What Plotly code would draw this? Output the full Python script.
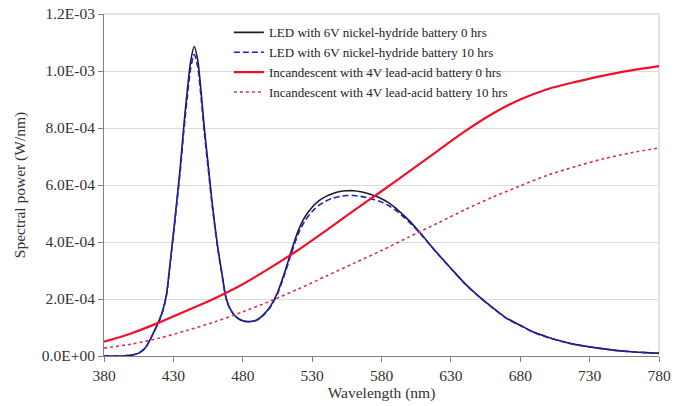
import numpy as np
import plotly.graph_objects as go

SCALE = 1e-3  # values below are in units of 1E-03 W/nm

# LED spectra (wavelength in nm)
wl_led = [380, 390, 395, 400, 405, 410, 415, 420, 422.5, 425, 427.5, 430, 432.5, 435, 437.5,
          440, 442.5, 445, 447.5, 450, 452.5, 455, 457.5, 460, 462.5, 465, 467.5, 470, 475,
          480, 485, 490, 495, 500, 505, 510, 515, 520, 525, 530, 535, 540, 545, 550, 555,
          560, 565, 570, 575, 580, 585, 590, 595, 600, 605, 610, 615, 620, 625, 630, 640,
          650, 660, 670, 680, 690, 700, 710, 720, 730, 740, 750, 760, 770, 780]
led_0h = [0.000, 0.000, 0.001, 0.003, 0.010, 0.030, 0.075, 0.128, 0.162, 0.215, 0.320, 0.430,
          0.545, 0.665, 0.805, 0.930, 1.035, 1.086, 1.040, 0.925, 0.790, 0.675, 0.558, 0.455,
          0.365, 0.290, 0.215, 0.175, 0.138, 0.124, 0.121, 0.126, 0.145, 0.175, 0.222, 0.290,
          0.368, 0.440, 0.490, 0.522, 0.545, 0.560, 0.570, 0.577, 0.580, 0.580, 0.576, 0.570,
          0.562, 0.552, 0.538, 0.520, 0.498, 0.475, 0.448, 0.420, 0.390, 0.362, 0.335, 0.308,
          0.255, 0.210, 0.170, 0.133, 0.108, 0.083, 0.066, 0.052, 0.040, 0.032, 0.025, 0.019,
          0.015, 0.012, 0.010]
led_10h = [0.000, 0.000, 0.001, 0.003, 0.010, 0.030, 0.074, 0.126, 0.160, 0.212, 0.315, 0.423,
           0.535, 0.652, 0.788, 0.908, 1.010, 1.058, 1.015, 0.905, 0.775, 0.662, 0.548, 0.448,
           0.360, 0.286, 0.212, 0.173, 0.137, 0.123, 0.120, 0.125, 0.143, 0.172, 0.218, 0.284,
           0.360, 0.428, 0.476, 0.507, 0.529, 0.544, 0.554, 0.560, 0.563, 0.563, 0.560, 0.555,
           0.548, 0.540, 0.528, 0.512, 0.492, 0.470, 0.445, 0.418, 0.389, 0.361, 0.334, 0.307,
           0.254, 0.209, 0.169, 0.132, 0.107, 0.082, 0.065, 0.051, 0.040, 0.032, 0.025, 0.019,
           0.015, 0.012, 0.010]

# Incandescent spectra
wl_inc = [380, 400, 420, 440, 460, 480, 500, 520, 540, 560, 580, 600, 620, 640, 660, 680,
          700, 720, 740, 760, 780]
inc_0h = [0.050, 0.080, 0.118, 0.160, 0.203, 0.252, 0.310, 0.372, 0.440, 0.510, 0.578,
          0.648, 0.718, 0.788, 0.850, 0.900, 0.937, 0.962, 0.984, 1.002, 1.017]
inc_10h = [0.028, 0.042, 0.063, 0.090, 0.120, 0.155, 0.193, 0.235, 0.280, 0.325, 0.370,
           0.418, 0.465, 0.513, 0.557, 0.597, 0.635, 0.665, 0.692, 0.713, 0.730]

names = ["LED with 6V nickel-hydride battery 0 hrs",
         "LED with 6V nickel-hydride battery 10 hrs",
         "Incandescent with 4V lead-acid battery 0 hrs",
         "Incandescent with 4V lead-acid battery 10 hrs"]

y_tickvals = [0, 2e-4, 4e-4, 6e-4, 8e-4, 1.0e-3, 1.2e-3]
y_ticktext = ["0.0E+00", "2.0E-04", "4.0E-04", "6.0E-04", "8.0E-04", "1.0E-03", "1.2E-03"]

FONT = "Liberation Serif"

fig = go.Figure()
series = [
    (wl_led, led_0h, dict(color="#1c1c2a", width=1.6, dash="solid")),
    (wl_led, led_10h, dict(color="#1f1fd0", width=1.6, dash="6px,3px")),
    (wl_inc, inc_0h, dict(color="#f0102a", width=2.2, dash="solid")),
    (wl_inc, inc_10h, dict(color="#d8305a", width=1.6, dash="dot")),
]
for i, (x, y, ln) in enumerate(series):
    fig.add_trace(go.Scatter(
        x=x, y=np.array(y) * SCALE, mode="lines", name=names[i],
        line=dict(shape="spline", smoothing=0.8, **ln),
    ))

fig.update_layout(
    width=686, height=406,
    margin=dict(l=104, r=27, t=14, b=50),
    paper_bgcolor="white", plot_bgcolor="white",
    font=dict(family=FONT, size=12, color="#333333"),
    showlegend=True,
    legend=dict(x=0.225, y=0.99, xanchor="left", yanchor="top",
                bgcolor="rgba(255,255,255,0)", borderwidth=0,
                font=dict(family=FONT, size=13, color="#222222"),
                tracegroupgap=0, itemwidth=30),
    xaxis=dict(range=[380, 780], tick0=380, dtick=50, automargin=False,
               showgrid=False, zeroline=False,
               showline=True, linecolor="#808080", linewidth=1, mirror=False,
               ticks="outside", ticklen=5, tickcolor="#808080",
               tickfont=dict(family=FONT, size=15.5, color="#333333"),
               title=dict(text="Wavelength (nm)", standoff=2,
                          font=dict(family=FONT, size=15.5, color="#333333"))),
    yaxis=dict(range=[0, 1.2e-3], tickvals=y_tickvals, ticktext=y_ticktext, automargin=False,
               showgrid=True, gridcolor="#dcdcdc", gridwidth=1, zeroline=False,
               showline=True, linecolor="#808080", linewidth=1,
               ticks="outside", ticklen=5, tickcolor="#808080",
               tickfont=dict(family=FONT, size=15.5, color="#333333"),
               title=dict(text="Spectral power (W/nm)", standoff=12,
                          font=dict(family=FONT, size=15.5, color="#333333"))),
)
# white legend box that hides gridlines but stays under the curves
fig.add_shape(type="rect", xref="paper", yref="paper", x0=0.215, x1=0.755, y0=0.74, y1=0.975,
              fillcolor="white", line=dict(width=0), layer="between")
# light plot-area border on top and right
fig.add_shape(type="line", xref="paper", yref="paper", x0=1, x1=1, y0=0, y1=1,
              line=dict(color="#c8c8c8", width=1), layer="between")
fig.add_shape(type="line", xref="paper", yref="paper", x0=0, x1=1, y0=1, y1=1,
              line=dict(color="#c8c8c8", width=1), layer="between")

fig.write_html("out.html", config={"displayModeBar": False})

# remove the browser's default page margin so the figure fills the window
with open("out.html", "r", encoding="utf-8") as f:
    html = f.read()
html = html.replace("<body>", '<body style="margin:0;padding:0;">', 1)
with open("out.html", "w", encoding="utf-8") as f:
    f.write(html)
